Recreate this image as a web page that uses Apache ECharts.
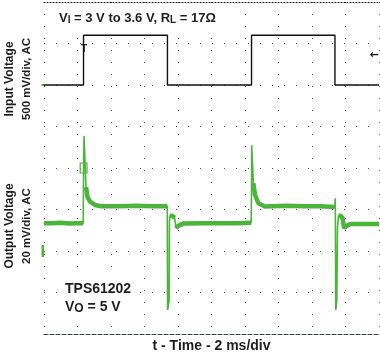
<!DOCTYPE html>
<html>
<head>
<meta charset="utf-8">
<script src="https://cdn.jsdelivr.net/npm/echarts@6/dist/echarts.min.js"></script>
<style>
html,body{margin:0;padding:0;background:#fff;}
#c{width:380px;height:356px;}
</style>
</head>
<body>
<div id="c"></div>
<script>
// time axis: ms (2 ms/div, 10 div); vertical axis: divisions (-4..4)
const inputT = [0, 2.36, 2.36, 7.37, 7.37, 12.39, 12.39, 17.37, 17.37, 20];
const inputV = [2.0, 2.0, 3.2, 3.2, 2.0, 2.0, 3.2, 3.2, 2.0, 2.0];

const outputT = [0, 0.5, 1.0, 1.5, 2.0, 2.34, 2.37, 2.39, 2.45, 2.51, 2.59, 2.75, 3.04, 3.4, 4.5, 5.5, 6.5, 7.36,
  7.38, 7.47, 7.49, 7.52, 7.65, 7.80, 7.88, 8.0, 8.3, 9.5, 10.5, 11.5, 12.37,
  12.39, 12.40, 12.50, 12.60, 12.80, 13.19, 13.6, 14.5, 15.5, 16.5, 17.36,
  17.39, 17.42, 17.48, 17.52, 17.58, 17.70, 17.82, 17.92, 18.05, 18.3, 19.0, 20];
const outputV = [-1.33, -1.33, -1.32, -1.34, -1.33, -1.33, 0.3, 0.77, 0.12, -0.46, -0.69, -0.81, -0.89, -0.92, -0.92, -0.91, -0.92, -0.92,
  -3.42, -3.2, -1.3, -1.15, -1.15, -1.2, -1.45, -1.4, -1.34, -1.33, -1.33, -1.33, -1.32,
  -0.5, 0.55, -0.37, -0.65, -0.85, -0.93, -0.92, -0.91, -0.92, -0.92, -0.94,
  -0.73, -3.42, -3.2, -1.45, -1.15, -1.15, -1.2, -1.45, -1.4, -1.35, -1.35, -1.35];

const xLabel = 't - Time - 2 ms/div';
const inLabel = ['Input Voltage', '500 mV/div, AC'];
const outLabel = ['Output Voltage', '20 mV/div, AC'];
const FONT = 'Liberation Sans, Arial, Helvetica, sans-serif';
const GREEN = '#4cb33c';

// thick noise band only on the slow parts of the trace; fast edges and spikes stay thin
const outPts = outputT.map((t, i) => [t, outputV[i]]);
const bandPts = [];
for (let i = 0; i < outPts.length; i++) {
  const a = outPts[i];
  bandPts.push(a[1] < -2.5 ? [a[0], '-'] : a);
  if (i < outPts.length - 1) {
    const b = outPts[i + 1];
    const slope = Math.abs(b[1] - a[1]) / (b[0] - a[0]);
    if (slope > 3) bandPts.push([a[0], '-']);
  }
}

const chart = echarts.init(document.getElementById('c'), null, {renderer: 'canvas'});
const dot = {color: '#111', width: 1, type: [1, 11], opacity: 0.75};
const lbl = (x, y, text, size) => ({type: 'text', x: x, y: y, rotation: Math.PI / 2,
  style: {text: text, fontFamily: FONT, fontWeight: 'bold', fontSize: size, fill: '#1e1e1e', textAlign: 'center', textVerticalAlign: 'middle'}});
chart.setOption({
  animation: false,
  backgroundColor: '#fff',
  grid: {left: 44, right: 1, top: 2, bottom: 22},
  xAxis: [{
    type: 'value', min: 0, max: 20, interval: 2, position: 'bottom',
    axisLine: {show: true, onZero: false, lineStyle: {color: '#3a4a3a', width: 1.2, type: [4, 2]}},
    axisTick: {show: false}, axisLabel: {show: false},
    splitLine: {show: true, lineStyle: dot}
  }, {
    type: 'value', min: 0, max: 20, interval: 2, position: 'top',
    axisLine: {show: true, onZero: false, lineStyle: {color: '#000', width: 1, type: [1, 2]}},
    axisTick: {show: false}, axisLabel: {show: false}, splitLine: {show: false}
  }],
  yAxis: {
    type: 'value', min: -4, max: 4, interval: 1,
    axisLine: {show: false}, axisTick: {show: false}, axisLabel: {show: false},
    splitLine: {show: true, lineStyle: dot}
  },
  series: [{
    type: 'line', name: 'input', showSymbol: false, z: 3,
    data: inputT.map((t, i) => [t, inputV[i]]),
    lineStyle: {color: '#111', width: 1.4}
  }, {
    type: 'line', name: 'output', showSymbol: false, z: 2,
    data: outPts,
    lineStyle: {color: GREEN, width: 1.6},
    markArea: {
      silent: true,
      itemStyle: {color: 'rgba(0,0,0,0)', borderColor: GREEN, borderWidth: 1.2},
      data: [[{xAxis: 2.16, yAxis: 0.12}, {xAxis: 2.57, yAxis: -0.12}]]
    }
  }, {
    type: 'line', name: 'outputBand', showSymbol: false, z: 2, connectNulls: false,
    data: bandPts,
    lineStyle: {color: GREEN, width: 4.5}
  }],
  graphic: [
    {type: 'rect', shape: {x: 53, y: 5, width: 180, height: 23}, style: {fill: '#fff'}, z: 10},
    {type: 'text', x: 59, y: 17, z: 11, style: {
      text: '{n|V}{s|I}{n| = 3 V to 3.6 V, R}{s|L}{n| = 17Ω}',
      textVerticalAlign: 'middle',
      rich: {
        n: {fontFamily: FONT, fontWeight: 'bold', fontSize: 13, lineHeight: 16, verticalAlign: 'bottom', fill: '#1e1e1e'},
        s: {fontFamily: FONT, fontWeight: 'bold', fontSize: 10, lineHeight: 10, verticalAlign: 'bottom', fill: '#1e1e1e'}
      }
    }},
    {type: 'rect', shape: {x: 58, y: 275, width: 82, height: 47}, style: {fill: '#fff'}, z: 10},
    {type: 'text', x: 65, y: 289, z: 11, style: {
      text: 'TPS61202', fontFamily: FONT, fontWeight: 'bold', fontSize: 14, fill: '#1e1e1e', textVerticalAlign: 'middle'
    }},
    {type: 'text', x: 65, y: 306, z: 11, style: {
      text: '{n|V}{s|O}{n| = 5 V}',
      textVerticalAlign: 'middle',
      rich: {
        n: {fontFamily: FONT, fontWeight: 'bold', fontSize: 14, lineHeight: 17, verticalAlign: 'bottom', fill: '#1e1e1e'},
        s: {fontFamily: FONT, fontWeight: 'bold', fontSize: 12, lineHeight: 11, verticalAlign: 'bottom', fill: '#1e1e1e'}
      }
    }},
    lbl(10, 79, inLabel[0], 12),
    lbl(27, 79, inLabel[1], 11.5),
    lbl(10, 226, outLabel[0], 12),
    lbl(27, 226, outLabel[1], 11.5),
    {type: 'text', x: 211.5, y: 346, style: {text: xLabel, fontFamily: FONT, fontWeight: 'bold', fontSize: 14, fill: '#1e1e1e', textAlign: 'center', textVerticalAlign: 'middle'}},
    {type: 'text', x: 84, y: 49, z: 4, style: {text: 'T', fontFamily: FONT, fontWeight: 'bold', fontSize: 10, fill: '#111', textAlign: 'center', textVerticalAlign: 'middle'}},
    {type: 'text', x: 374, y: 55, style: {text: '←', fontFamily: 'DejaVu Sans', fontWeight: 'bold', fontSize: 11, fill: '#111', textAlign: 'center', textVerticalAlign: 'middle'}},
    {type: 'rect', shape: {x: 41.5, y: 245, width: 2.5, height: 12}, style: {fill: GREEN}},
    {type: 'rect', shape: {x: 41.5, y: 84, width: 2.5, height: 2}, style: {fill: GREEN}}
  ]
});
</script>
</body>
</html>
